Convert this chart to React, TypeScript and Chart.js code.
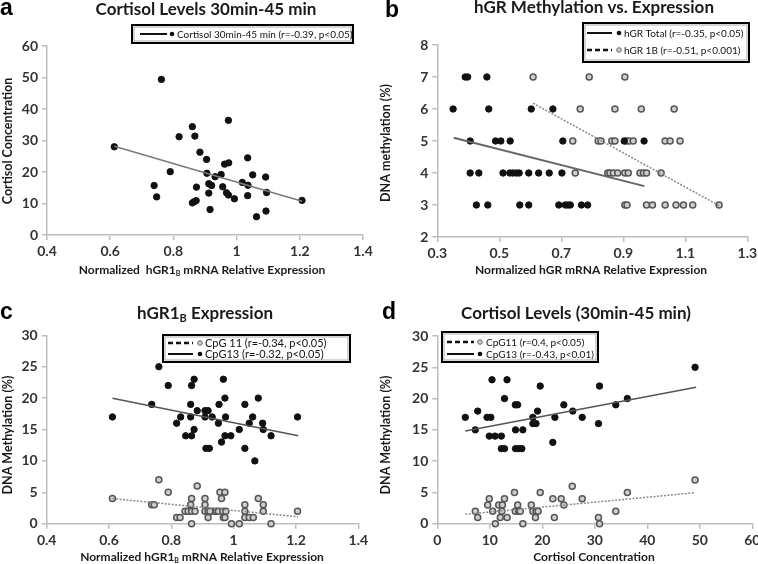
import React, { useEffect, useRef } from 'react';
import { Chart, registerables } from 'chart.js';
Chart.register(...registerables);

// ---------- DATA ----------
// Panel a: hGR1B expression vs cortisol
const aExpr = [0.613, 0.739, 0.747, 0.762, 0.790, 0.818, 0.860, 0.866, 0.872, 0.860, 0.868, 0.873, 0.884, 0.905, 0.906, 0.912, 0.921, 0.912, 0.916, 0.932, 0.951, 0.956, 0.962, 0.975, 0.974, 0.968, 0.974, 0.993, 1.018, 1.035, 1.036, 1.035, 1.051, 1.063, 1.092, 1.093, 1.095, 1.207];
const aCort = [28.0, 15.7, 12.1, 49.4, 20.1, 31.2, 10.2, 10.6, 10.9, 34.4, 31.4, 15.2, 26.3, 24.0, 19.6, 16.3, 15.7, 13.3, 8.1, 18.5, 19.2, 15.3, 22.5, 22.9, 36.4, 13.4, 12.7, 11.5, 16.7, 24.5, 15.8, 12.5, 19.1, 5.8, 18.4, 7.6, 13.5, 11.0];
const aTrendX = [0.613, 1.207];
const aTrendY = [28.2, 10.7];
const aXTicks = [0.4, 0.6, 0.8, 1, 1.2, 1.4];
const aYTicks = [0, 10, 20, 30, 40, 50, 60];

// Panel b: hGR methylation vs expression
const bTotalX = [0.390, 0.398, 0.460, 0.351, 0.466, 0.603, 0.673, 0.406, 0.488, 0.505, 0.535, 0.705, 0.903, 0.967, 0.406, 0.434, 0.512, 0.534, 0.544, 0.555, 0.564, 0.595, 0.627, 0.661, 0.702, 0.426, 0.463, 0.566, 0.595, 0.692, 0.713, 0.721, 0.729, 0.765, 0.785];
const bTotalY = [7, 7, 7, 6, 6, 6, 6, 5, 5, 5, 5, 5, 5, 5, 4, 4, 4, 4, 4, 4, 4, 4, 4, 4, 4, 3, 3, 3, 3, 3, 3, 3, 3, 3, 3];
const b1BX = [0.609, 0.790, 0.905, 0.761, 0.873, 0.958, 1.064, 0.737, 0.819, 0.828, 0.863, 0.873, 0.910, 0.919, 0.932, 1.035, 1.051, 1.083, 0.745, 0.850, 0.857, 0.868, 0.882, 0.905, 0.916, 0.954, 0.965, 0.975, 1.022, 0.905, 0.912, 0.975, 0.994, 1.035, 1.070, 1.094, 1.124, 1.209];
const b1BY = [7, 7, 7, 6, 6, 6, 6, 5, 5, 5, 5, 5, 5, 5, 5, 5, 5, 5, 4, 4, 4, 4, 4, 4, 4, 4, 4, 4, 4, 3, 3, 3, 3, 3, 3, 3, 3, 3];
const bTotalTrendX = [0.353, 0.968];
const bTotalTrendY = [5.10, 3.59];
const b1BTrendX = [0.609, 1.209];
const b1BTrendY = [6.18, 2.98];
const bXTicks = [0.3, 0.5, 0.7, 0.9, 1.1, 1.3];
const bYTicks = [2, 3, 4, 5, 6, 7, 8];

// Panel c: hGR1B expression vs CpG methylation
const cCpG13X = [0.611, 0.737, 0.760, 0.790, 0.817, 0.830, 0.846, 0.862, 0.862, 0.865, 0.865, 0.873, 0.873, 0.883, 0.908, 0.918, 0.908, 0.911, 0.922, 0.931, 0.951, 0.953, 0.961, 0.967, 0.972, 0.974, 0.972, 0.991, 1.018, 1.036, 1.036, 1.050, 1.061, 1.068, 1.079, 1.093, 1.095, 1.120, 1.205];
const cCpG13Y = [17, 19, 25, 22, 16, 17, 14, 19, 17, 22, 14, 23, 15, 18, 18, 18, 17, 12, 12, 17, 16, 19, 13, 23, 20, 17, 14, 14, 15, 19, 12, 16, 17, 10, 20, 16, 15, 14, 17];
const cCpG11X = [0.760, 0.790, 0.883, 0.611, 0.737, 0.745, 0.865, 0.862, 0.908, 0.908, 0.844, 0.854, 0.865, 0.876, 0.908, 0.918, 0.935, 0.945, 0.817, 0.828, 0.918, 0.865, 0.956, 0.972, 0.961, 0.924, 0.951, 0.965, 0.975, 0.967, 0.972, 0.993, 1.018, 1.036, 1.036, 1.036, 1.050, 1.063, 1.079, 1.095, 1.095, 1.120, 1.205];
const cCpG11Y = [7, 5, 6, 4, 3, 3, 4, 3, 4, 3, 2, 2, 2, 2, 2, 2, 2, 2, 1, 1, 1, 0, 5, 5, 4, 2, 2, 2, 2, 1, 1, 0, 0, 3, 2, 1, 1, 1, 4, 3, 2, 0, 2];
const cCpG13TrendX = [0.611, 1.207];
const cCpG13TrendY = [19.97, 14.0];
const cCpG11TrendX = [0.611, 1.207];
const cCpG11TrendY = [4.0, 1.1];
const cXTicks = [0.4, 0.6, 0.8, 1, 1.2, 1.4];
const cYTicks = [0, 5, 10, 15, 20, 25, 30];

// Panel d: cortisol vs CpG methylation
const dCpG13X = [10.42, 13.28, 19.6, 12.8, 14.86, 15.3, 5.33, 7.7, 9.47, 10.2, 19.1, 18.2, 24.1, 22.4, 7.24, 18.2, 18.8, 14.9, 16.3, 9.9, 11.0, 12.2, 12.2, 12.8, 14.9, 15.5, 16.1, 22.0, 49.1, 30.9, 36.2, 34.0, 25.8, 27.6, 30.7];
const dCpG13Y = [23, 23, 22, 20, 19, 19, 17, 18, 17, 17, 18, 17, 19, 17, 15, 16, 16, 15, 15, 14, 14, 14, 12, 12, 12, 12, 12, 13, 25, 22, 20, 19, 18, 17, 16];
const dCpG11X = [14.7, 19.6, 25.7, 9.9, 12.8, 22.0, 23.6, 9.6, 11.7, 12.4, 15.3, 17.9, 24.1, 7.24, 10.55, 12.3, 14.86, 15.5, 15.8, 18.2, 18.8, 19.2, 7.7, 12.0, 13.3, 18.7, 22.3, 11.05, 16.3, 49.1, 36.2, 27.6, 34.0, 30.7, 30.9];
const dCpG11Y = [5, 5, 6, 4, 4, 4, 4, 3, 3, 3, 3, 3, 3, 2, 2, 2, 2, 2, 2, 2, 2, 2, 1, 1, 1, 1, 1, 0, 0, 7, 5, 4, 2, 1, 0];
const dCpG13TrendX = [5.33, 49.3];
const dCpG13TrendY = [14.8, 21.8];
const dCpG11TrendX = [5.33, 49.1];
const dCpG11TrendY = [1.5, 4.95];
const dXTicks = [0, 10, 20, 30, 40, 50, 60];
const dYTicks = [0, 5, 10, 15, 20, 25, 30];

// ---------- STYLE ----------
const FONT = 'Lato, "Open Sans", sans-serif';
const TICK_COLOR = '#333';
const AXIS_COLOR = '#bdbdbd';

const zip = (xs: number[], ys: number[]) => xs.map((x, i) => ({ x, y: ys[i] }));

type Seg = { t: string; sub?: boolean };

const blackPts = (xs: number[], ys: number[]) => ({
  type: 'scatter' as const,
  data: zip(xs, ys),
  pointRadius: 3.2,
  pointBackgroundColor: '#111',
  pointBorderColor: '#111',
  pointBorderWidth: 1,
  showLine: false,
  clip: false as any,
  order: 1,
});
const grayPts = (xs: number[], ys: number[]) => ({
  type: 'scatter' as const,
  data: zip(xs, ys),
  pointRadius: 3,
  pointBackgroundColor: '#cfcfcf',
  pointBorderColor: '#555',
  pointBorderWidth: 1.5,
  showLine: false,
  clip: false as any,
  order: 1,
});
const trend = (xs: number[], ys: number[], dotted: boolean, color: string, width: number) => ({
  type: 'line' as const,
  data: zip(xs, ys),
  borderColor: color,
  borderWidth: width,
  borderDash: dotted ? [2, 1.5] : [],
  pointRadius: 0,
  showLine: true,
  fill: false,
  order: 0,
});

interface LegendRow { y: number; dashed: boolean; marker: 'black' | 'gray'; text: string }
interface Spec {
  left: number; top: number; width: number; height: number;
  area: { l: number; r: number; t: number; b: number };
  xMin: number; xMax: number; xTicks: number[];
  yMin: number; yMax: number; yTicks: number[];
  letter: { text: string; x: number; y: number };
  title: { segs: Seg[]; x: number; y: number };
  xTitle: { segs: Seg[]; x: number; y: number };
  yTitle: { text: string; x: number; y: number };
  legend: { x: number; y: number; w: number; h: number; fs: number; lineX: [number, number]; markerX: number; textX: number; rows: LegendRow[] };
  datasets: any[];
}

function drawRich(ctx: CanvasRenderingContext2D, segs: Seg[], cx: number, cy: number, size: number) {
  const fnt = (s: Seg) => `bold ${s.sub ? Math.round(size * 0.62) : size}px ${FONT}`;
  let total = 0;
  segs.forEach((s) => { ctx.font = fnt(s); total += ctx.measureText(s.t).width; });
  let x = cx - total / 2;
  ctx.textBaseline = 'middle';
  ctx.textAlign = 'left';
  segs.forEach((s) => {
    ctx.font = fnt(s);
    ctx.fillText(s.t, x, s.sub ? cy + size * 0.28 : cy);
    x += ctx.measureText(s.t).width;
  });
}

const decorPlugin = {
  id: 'decor',
  afterDraw(chart: any) {
    const spec: Spec = chart.options.plugins.decor.spec;
    const ctx: CanvasRenderingContext2D = chart.ctx;
    ctx.save();
    // panel letter
    ctx.fillStyle = '#000';
    ctx.font = `bold 23px "Liberation Sans", Arial, sans-serif`;
    ctx.textAlign = 'left';
    ctx.textBaseline = 'alphabetic';
    ctx.fillText(spec.letter.text, spec.letter.x, spec.letter.y);
    // title
    ctx.fillStyle = '#1a1a1a';
    drawRich(ctx, spec.title.segs, spec.title.x, spec.title.y, 17);
    // x title
    drawRich(ctx, spec.xTitle.segs, spec.xTitle.x, spec.xTitle.y, 12);
    // y title
    ctx.save();
    ctx.translate(spec.yTitle.x, spec.yTitle.y);
    ctx.rotate(-Math.PI / 2);
    ctx.font = `bold 12.5px ${FONT}`;
    ctx.textAlign = 'center';
    ctx.textBaseline = 'middle';
    ctx.fillText(spec.yTitle.text, 0, 0);
    ctx.restore();
    // legend
    const L = spec.legend;
    ctx.fillStyle = '#fff';
    ctx.fillRect(L.x, L.y, L.w, L.h);
    ctx.strokeStyle = '#000';
    ctx.lineWidth = 2;
    ctx.strokeRect(L.x, L.y, L.w, L.h);
    ctx.strokeStyle = '#777';
    ctx.lineWidth = 0.6;
    ctx.strokeRect(L.x + 2, L.y + 2, L.w - 4, L.h - 4);
    L.rows.forEach((r) => {
      ctx.beginPath();
      ctx.strokeStyle = '#111';
      ctx.lineWidth = r.dashed ? 2.6 : 2;
      ctx.setLineDash(r.dashed ? [5, 3] : []);
      ctx.moveTo(L.lineX[0], r.y);
      ctx.lineTo(L.lineX[1], r.y);
      ctx.stroke();
      ctx.setLineDash([]);
      ctx.beginPath();
      ctx.arc(L.markerX, r.y, 2.3, 0, Math.PI * 2);
      if (r.marker === 'black') {
        ctx.fillStyle = '#111';
        ctx.fill();
      } else {
        ctx.fillStyle = '#cfcfcf';
        ctx.fill();
        ctx.strokeStyle = '#666';
        ctx.lineWidth = 1;
        ctx.stroke();
      }
      ctx.fillStyle = '#111';
      ctx.font = `${L.fs}px ${FONT}`;
      ctx.textAlign = 'left';
      ctx.textBaseline = 'middle';
      ctx.fillText(r.text, L.textX, r.y + 0.5);
    });
    ctx.restore();
  },
};

const fmt = (v: number) => String(Number(Number(v).toFixed(2)));

function Panel({ spec }: { spec: Spec }) {
  const ref = useRef<HTMLCanvasElement>(null);
  useEffect(() => {
    const tickFont = { family: FONT, size: 14, weight: 'bold' as const };
    const chart = new Chart(ref.current!, {
      type: 'scatter',
      data: { datasets: spec.datasets },
      plugins: [decorPlugin],
      options: {
        animation: false,
        responsive: false,
        devicePixelRatio: 1,
        layout: {
          autoPadding: false,
          padding: { left: 0, top: spec.area.t, right: spec.width - spec.area.r, bottom: 0 },
        },
        plugins: {
          legend: { display: false },
          tooltip: { enabled: false },
          title: { display: false },
          decor: { spec },
        } as any,
        scales: {
          x: {
            type: 'linear',
            min: spec.xMin,
            max: spec.xMax,
            afterBuildTicks: (s: any) => { s.ticks = spec.xTicks.map((v) => ({ value: v })); },
            afterFit: (s: any) => { s.height = spec.height - spec.area.b; },
            ticks: { color: TICK_COLOR, font: tickFont, padding: 3, maxRotation: 0, autoSkip: false, callback: (v: any) => fmt(v) },
            grid: { drawOnChartArea: false, drawTicks: true, tickLength: 5, color: AXIS_COLOR, lineWidth: 1.5 },
            border: { color: AXIS_COLOR, width: 1.5 },
          },
          y: {
            type: 'linear',
            min: spec.yMin,
            max: spec.yMax,
            afterBuildTicks: (s: any) => { s.ticks = spec.yTicks.map((v) => ({ value: v })); },
            afterFit: (s: any) => { s.width = spec.area.l; },
            ticks: { color: TICK_COLOR, font: tickFont, padding: 4, autoSkip: false, callback: (v: any) => fmt(v) },
            grid: { drawOnChartArea: false, drawTicks: true, tickLength: 5, color: AXIS_COLOR, lineWidth: 1.5 },
            border: { color: AXIS_COLOR, width: 1.5 },
          },
        },
      } as any,
    });
    return () => chart.destroy();
  }, []);
  return (
    <canvas
      ref={ref}
      width={spec.width}
      height={spec.height}
      style={{ position: 'absolute', left: spec.left, top: spec.top, width: spec.width, height: spec.height }}
    />
  );
}

const specA: Spec = {
  left: 0, top: 0, width: 379, height: 282,
  area: { l: 47, r: 363, t: 46, b: 235 },
  xMin: 0.4, xMax: 1.4, xTicks: aXTicks,
  yMin: 0, yMax: 60, yTicks: aYTicks,
  letter: { text: 'a', x: 0, y: 15 },
  title: { segs: [{ t: 'Cortisol Levels 30min-45 min' }], x: 206, y: 10 },
  xTitle: { segs: [{ t: 'Normalized  hGR1' }, { t: 'B', sub: true }, { t: ' mRNA Relative Expression' }], x: 202, y: 270 },
  yTitle: { text: 'Cortisol Concentration', x: 8, y: 141 },
  legend: {
    x: 132, y: 25, w: 221, h: 18, fs: 10, lineX: [140, 167], markerX: 172, textX: 177,
    rows: [{ y: 34, dashed: false, marker: 'black', text: 'Cortisol 30min-45 min (r=-0.39, p<0.05)' }],
  },
  datasets: [trend(aTrendX, aTrendY, false, '#7a7a7a', 1.5), blackPts(aExpr, aCort)],
};

const specB: Spec = {
  left: 379, top: 0, width: 390, height: 282,
  area: { l: 58.3, r: 368.3, t: 45, b: 237 },
  xMin: 0.3, xMax: 1.3, xTicks: bXTicks,
  yMin: 2, yMax: 8, yTicks: bYTicks,
  letter: { text: 'b', x: 6, y: 17 },
  title: { segs: [{ t: 'hGR Methylation vs. Expression' }], x: 215, y: 8 },
  xTitle: { segs: [{ t: 'Normalized hGR mRNA Relative Expression' }], x: 212, y: 270 },
  yTitle: { text: 'DNA methylation (%)', x: 7, y: 143 },
  legend: {
    x: 204, y: 23, w: 166, h: 39, fs: 10, lineX: [208, 233], markerX: 240, textX: 245,
    rows: [
      { y: 33, dashed: false, marker: 'black', text: 'hGR Total (r=-0.35, p<0.05)' },
      { y: 50, dashed: true, marker: 'gray', text: 'hGR 1B (r=-0.51, p<0.001)' },
    ],
  },
  datasets: [
    trend(bTotalTrendX, bTotalTrendY, false, '#666', 2),
    trend(b1BTrendX, b1BTrendY, true, '#8a8a8a', 1.5),
    blackPts(bTotalX, bTotalY),
    grayPts(b1BX, b1BY),
  ],
};

const specC: Spec = {
  left: 0, top: 282, width: 379, height: 282,
  area: { l: 46.7, r: 358.3, t: 53.3, b: 241.7 },
  xMin: 0.4, xMax: 1.4, xTicks: cXTicks,
  yMin: 0, yMax: 30, yTicks: cYTicks,
  letter: { text: 'c', x: 0, y: 37 },
  title: { segs: [{ t: 'hGR1' }, { t: 'B', sub: true }, { t: ' Expression' }], x: 205, y: 32 },
  xTitle: { segs: [{ t: 'Normalized hGR1' }, { t: 'B', sub: true }, { t: ' mRNA Relative Expression' }], x: 202, y: 275 },
  yTitle: { text: 'DNA Methylation (%)', x: 8, y: 153 },
  legend: {
    x: 163, y: 53, w: 187, h: 27, fs: 11, lineX: [168, 193], markerX: 200, textX: 205,
    rows: [
      { y: 61, dashed: true, marker: 'gray', text: 'CpG 11 (r=-0.34, p<0.05)' },
      { y: 72, dashed: false, marker: 'black', text: 'CpG13 (r=-0.32, p<0.05)' },
    ],
  },
  datasets: [
    trend(cCpG13TrendX, cCpG13TrendY, false, '#555', 1.5),
    trend(cCpG11TrendX, cCpG11TrendY, true, '#8a8a8a', 1.5),
    blackPts(cCpG13X, cCpG13Y),
    grayPts(cCpG11X, cCpG11Y),
  ],
};

const specD: Spec = {
  left: 379, top: 282, width: 390, height: 282,
  area: { l: 58.3, r: 373.3, t: 54, b: 241.7 },
  xMin: 0, xMax: 60, xTicks: dXTicks,
  yMin: 0, yMax: 30, yTicks: dYTicks,
  letter: { text: 'd', x: 3, y: 37 },
  title: { segs: [{ t: 'Cortisol Levels (30min-45 min)' }], x: 197, y: 32 },
  xTitle: { segs: [{ t: 'Cortisol Concentration' }], x: 215, y: 275 },
  yTitle: { text: 'DNA Methylation (%)', x: 7, y: 153 },
  legend: {
    x: 63, y: 50, w: 156, h: 30, fs: 10, lineX: [68, 95], markerX: 101, textX: 107,
    rows: [
      { y: 60, dashed: true, marker: 'gray', text: 'CpG11 (r=0.4, p<0.05)' },
      { y: 72, dashed: false, marker: 'black', text: 'CpG13 (r=-0.43, p<0.01)' },
    ],
  },
  datasets: [
    trend(dCpG13TrendX, dCpG13TrendY, false, '#555', 1.5),
    trend(dCpG11TrendX, dCpG11TrendY, true, '#8a8a8a', 1.5),
    blackPts(dCpG13X, dCpG13Y),
    grayPts(dCpG11X, dCpG11Y),
  ],
};

export default function App() {
  return (
    <div style={{ position: 'fixed', left: 0, top: 0, width: 758, height: 564, overflow: 'hidden', background: '#fff' }}>
      <Panel spec={specA} />
      <Panel spec={specB} />
      <Panel spec={specC} />
      <Panel spec={specD} />
    </div>
  );
}
